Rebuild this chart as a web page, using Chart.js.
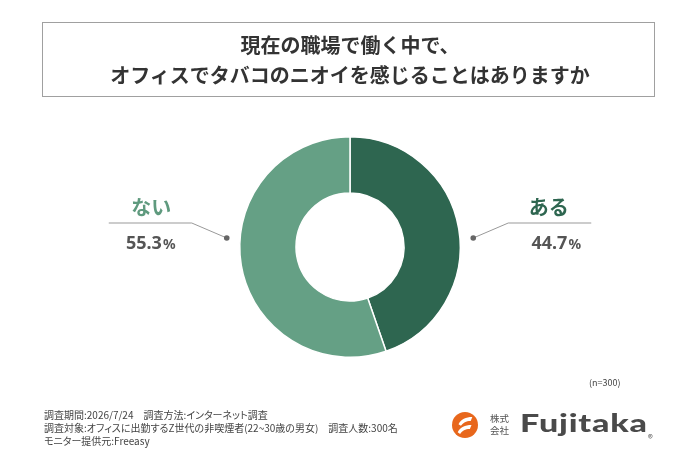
<!DOCTYPE html>
<html><head><meta charset="utf-8">
<script src="https://cdn.jsdelivr.net/npm/chart.js@4"></script>
<style>
html,body{margin:0;padding:0;background:#fff;}
body{width:700px;height:467px;position:relative;overflow:hidden;font-family:"Noto Sans CJK JP","Noto Sans",sans-serif;}
#c{position:absolute;left:0;top:0;}
.box{position:absolute;left:42px;top:22px;width:613px;height:75px;border:1px solid #a0a0a0;box-sizing:border-box;}
.title{position:absolute;left:0;width:700px;text-align:center;font-weight:700;font-size:20px;color:#333;line-height:1;}
.foot{position:absolute;left:44px;font-size:10px;color:#444;line-height:1;white-space:nowrap;font-feature-settings:"palt";}
.n{position:absolute;left:589px;top:376px;font-size:9px;color:#444;}
.logo{position:absolute;left:452px;top:412px;}
.kk{position:absolute;left:490px;top:412px;font-size:9.5px;line-height:12px;color:#555;width:22px;}
.fj{position:absolute;left:520px;top:410px;font-family:"Lato","Noto Sans",sans-serif;font-weight:900;font-size:25px;color:#4a4a4a;line-height:1;letter-spacing:0.6px;transform:scaleX(1.36);transform-origin:0 0;}
.r{position:absolute;left:648px;top:430px;font-size:10px;color:#555;}
</style></head><body>
<canvas id="c" width="700" height="467"></canvas>
<div class="box"></div>
<div class="title" style="top:35px;">現在の職場で働く中で、</div>
<div class="title" style="top:65px;">オフィスでタバコのニオイを感じることはありますか</div>
<div class="n">(n=300)</div>
<div class="foot" style="top:410px;">調査期間:2026/7/24　調査方法:インターネット調査</div>
<div class="foot" style="top:423px;">調査対象:オフィスに出勤するZ世代の非喫煙者(22~30歳の男女)　調査人数:300名</div>
<div class="foot" style="top:436px;">モニター提供元:Freeasy</div>
<svg class="logo" width="26" height="26" viewBox="0 0 32 32">
<circle cx="16" cy="16" r="16" fill="#e8671c"/>
<path d="M8 15 C11 9,17 6,25 6 L23 11 C17 11,14 13,11 17 Z" fill="#fff"/>
<path d="M7 25 C10 19,16 16,24 16 L22 21 C16 21,13 23,10 27 Z" fill="#fff"/>
</svg>
<div class="kk">株式<br>会社</div>
<div class="fj">Fujitaka</div>
<div class="r">®</div>
<script>
const categories = ["ある", "ない"];
const values = [44.7, 55.3];
const valueLabels = ["44.7%", "55.3%"];
const colors = ["#2e6650", "#65a085"];
const labelColors = ["#2e6650", "#5f9a7e"];

const labelPlugin = {
  id: 'labels',
  afterDatasetsDraw(chart) {
    const ctx = chart.ctx;
    const arc = chart.getDatasetMeta(0).data[0];
    const cx = arc.x, cy = arc.y, R = arc.outerRadius;
    ctx.save();
    categories.forEach((cat, i) => {
      const side = i === 0 ? 1 : -1;
      const dx = cx + side * (R + 13);
      const dy = cy - 9;
      const ex = cx + side * (R + 48);
      const ey = cy - 24;
      const lx2 = cx + side * (R + 131);
      ctx.strokeStyle = '#999';
      ctx.lineWidth = 1;
      ctx.beginPath();
      ctx.moveTo(dx, dy); ctx.lineTo(ex, ey); ctx.lineTo(lx2, ey);
      ctx.stroke();
      ctx.fillStyle = '#666';
      ctx.beginPath(); ctx.arc(dx, dy, 2.8, 0, Math.PI * 2); ctx.fill();
      const tx = (ex + lx2) / 2;
      ctx.textAlign = 'center';
      ctx.textBaseline = 'middle';
      ctx.fillStyle = labelColors[i];
      ctx.font = '700 20px "Noto Sans CJK JP"';
      ctx.fillText(cat, tx + (i === 0 ? -1 : 1), ey - 16);
      const v = valueLabels[i];
      const num = v.slice(0, -1);
      ctx.fillStyle = '#555';
      ctx.font = '700 18px "Noto Sans"';
      const wn = ctx.measureText(num).width;
      ctx.font = '700 14px "Noto Sans"';
      const wp = ctx.measureText('%').width;
      const sx = tx + (i === 0 ? 6 : 0) - (wn + wp) / 2;
      ctx.textAlign = 'left';
      ctx.textBaseline = 'alphabetic';
      ctx.font = '700 18px "Noto Sans"';
      ctx.fillText(num, sx, ey + 26);
      ctx.font = '700 14px "Noto Sans"';
      ctx.fillText('%', sx + wn + 1, ey + 26);
    });
    ctx.restore();
  }
};

new Chart(document.getElementById('c'), {
  type: 'doughnut',
  data: { labels: categories, datasets: [{ data: values, backgroundColor: colors, borderColor: '#fff', borderWidth: 1.5 }] },
  options: {
    responsive: false, animation: false, cutout: '49%',
    layout: { padding: { top: 136, bottom: 109, left: 0, right: 0 } },
    plugins: { legend: { display: false }, tooltip: { enabled: false } }
  },
  plugins: [labelPlugin]
});
</script>
</body></html>
